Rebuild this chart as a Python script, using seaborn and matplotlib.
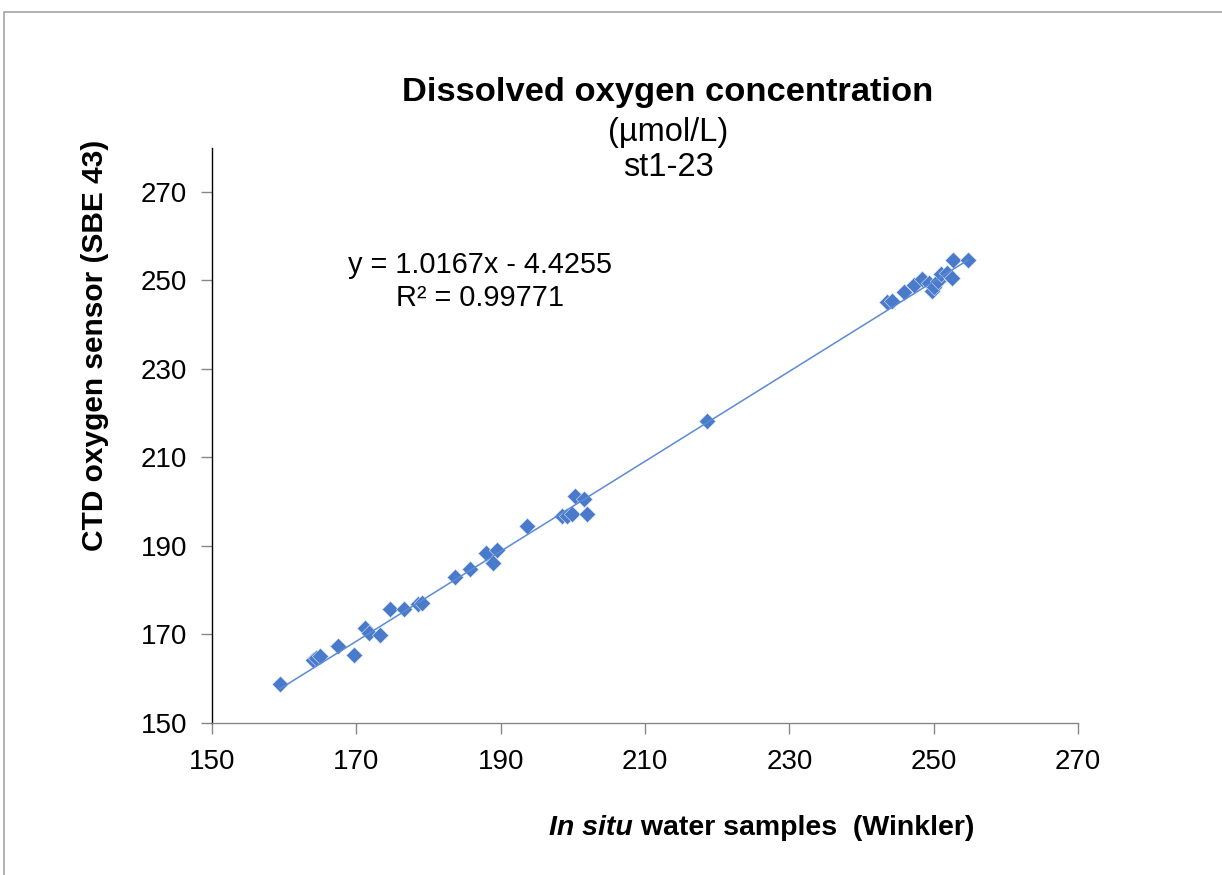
import matplotlib
matplotlib.use("Agg")
import matplotlib.pyplot as plt
from matplotlib.patches import Rectangle
import numpy as np
import pandas as pd
import seaborn as sns

# Winkler titration results vs CTD (SBE 43) sensor readings, umol/L
winkler = [159.4, 164.0, 164.4, 164.9, 167.5, 169.7, 171.2, 171.8, 173.3, 174.7,
           176.6, 178.6, 179.1, 183.7, 185.7, 187.9, 189.5, 188.9, 193.6, 198.5,
           199.2, 199.9, 200.3, 201.5, 201.9, 218.6,
           243.5, 244.2, 245.9, 247.3, 248.4, 249.3, 249.7, 250.1, 250.6, 251.0,
           251.8, 252.6, 252.7, 254.8]
ctd = [158.8, 164.1, 164.6, 165.1, 167.4, 165.3, 171.5, 170.3, 169.9, 175.8,
       175.8, 176.9, 177.0, 182.9, 184.8, 188.4, 189.1, 186.2, 194.5, 196.7,
       196.8, 197.2, 201.2, 200.5, 197.2, 218.1,
       245.1, 245.4, 247.3, 249.0, 250.3, 249.4, 247.6, 248.5, 249.8, 251.4,
       251.6, 250.6, 254.6, 254.6]

# Linear trendline as reported
slope = 1.0167
intercept = -4.4255
r_squared = 0.99771

x_ticks = [150, 170, 190, 210, 230, 250, 270]
y_ticks = [150, 170, 190, 210, 230, 250, 270]

sns.set_theme(style="white")
plt.rcParams["font.family"] = ["Liberation Sans", "DejaVu Sans"]
plt.rcParams["text.color"] = "black"

W, H = 1222, 875
fig = plt.figure(figsize=(W / 100, H / 100), dpi=100)
ax = fig.add_axes([212 / W, 1 - 722.7 / H, (1078 - 212) / W, (722.7 - 147.6) / H])

blue = "#4a7bcb"
df = pd.DataFrame({"winkler": winkler, "ctd": ctd})
sns.scatterplot(data=df, x="winkler", y="ctd", marker="D", s=70, color=blue,
                linewidth=0.4, edgecolor="#dfe8f6", ax=ax, zorder=3)

fit = pd.DataFrame({"x": [min(winkler), max(winkler)]})
fit["y"] = slope * fit["x"] + intercept
sns.lineplot(data=fit, x="x", y="y", color="#5b8ad6", linewidth=1.1, ax=ax, zorder=4)

ax.set_xlim(150, 270)
ax.set_ylim(150, 280)
ax.set_xticks(x_ticks)
ax.set_yticks(y_ticks)
ax.set_xlabel("")
ax.set_ylabel("")
ax.tick_params(axis="both", direction="out", length=8, width=1.0,
               labelsize=20, labelcolor="black", color="#868686",
               bottom=True, left=True)
ax.tick_params(axis="x", pad=11)
ax.tick_params(axis="y", pad=10)
for side in ("top", "right"):
    ax.spines[side].set_visible(False)
ax.spines["bottom"].set_color("#868686")
ax.spines["bottom"].set_linewidth(1.0)
ax.spines["left"].set_color("black")
ax.spines["left"].set_linewidth(1.0)

# Titles
fig.text(668 / W, 1 - 92 / H, "Dissolved oxygen concentration", ha="center",
         va="center", fontsize=24.8, fontweight="bold")
fig.text(668 / W, 1 - 133 / H, "(µmol/L)", ha="center", va="center", fontsize=23.5)
fig.text(668 / W, 1 - 168 / H, "st1-23", ha="center", va="center", fontsize=23.5)

# Trendline equation
fig.text(480 / W, 1 - 265 / H, f"y = {slope}x - {abs(intercept)}", ha="center",
         va="center", fontsize=20.8)
fig.text(480 / W, 1 - 298 / H, f"R² = {r_squared}", ha="center", va="center",
         fontsize=20.8)

# Y axis title
fig.text(95 / W, 1 - 345 / H, "CTD oxygen sensor (SBE 43)", rotation=90,
         ha="center", va="center", fontsize=21.5, fontweight="bold")

# X axis title with italic "In situ"
renderer = fig.canvas.get_renderer()
t1 = fig.text(0, 1 - 828 / H, "In situ", ha="left", va="center", fontsize=20.5,
              fontweight="bold", fontstyle="italic")
t2 = fig.text(0, 1 - 828 / H, " water samples  (Winkler)", ha="left", va="center",
              fontsize=20.5, fontweight="bold")
w1 = t1.get_window_extent(renderer).width
w2 = t2.get_window_extent(renderer).width
x0 = 762 - (w1 + w2) / 2
t1.set_x(x0 / W)
t2.set_x((x0 + w1) / W)

# Chart frame
fig.patches.append(Rectangle((4 / W, -0.05), 1.2, 1 - 12 / H + 0.05,
                             transform=fig.transFigure, fill=False,
                             edgecolor="#a6a6a6", linewidth=1.2))

fig.savefig("out.png", dpi=100)
